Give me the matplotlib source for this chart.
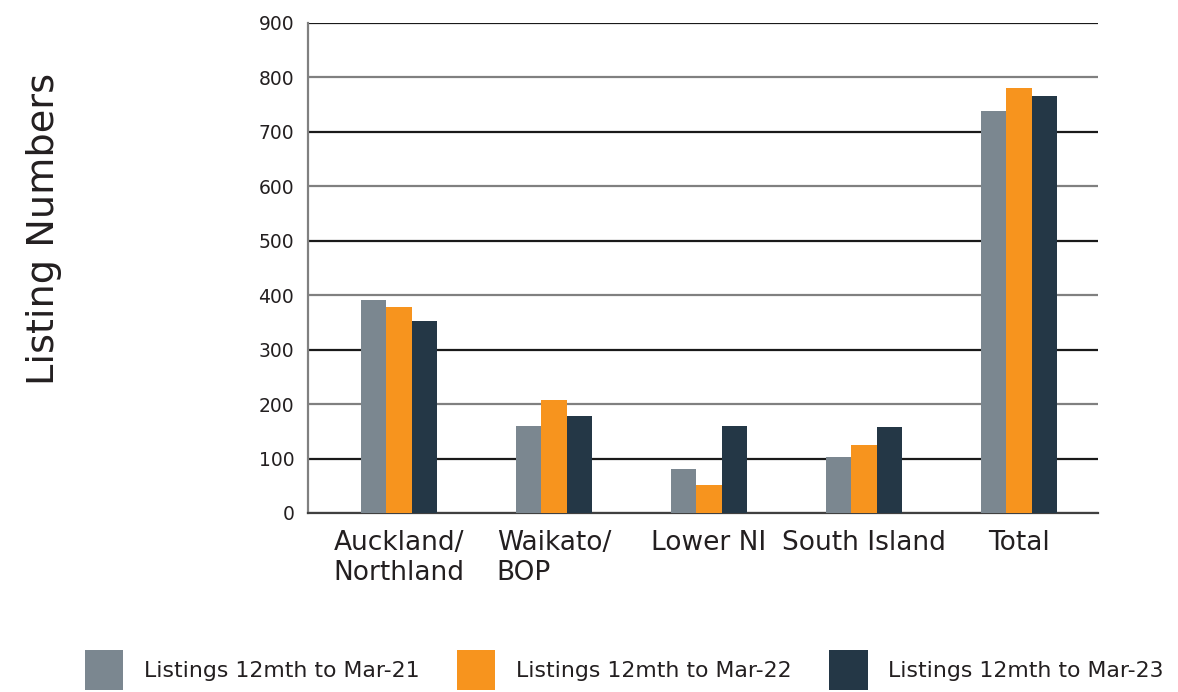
import numpy as np
import matplotlib.pyplot as plt
from matplotlib.patches import Patch

plt.rcParams['font.family'] = ['DejaVu Sans']

regions = ['Auckland/\nNorthland', 'Waikato/\nBOP', 'Lower NI', 'South Island', 'Total']
mar21 = [392, 160, 81, 103, 739]
mar22 = [379, 208, 51, 125, 781]
mar23 = [353, 178, 160, 158, 765]
series_names = ['Listings 12mth to Mar-21', 'Listings 12mth to Mar-22', 'Listings 12mth to Mar-23']
colors = ['#7b8790', '#f7941e', '#243746']

fig = plt.figure(figsize=(11.78, 6.92), dpi=100)
ax = fig.add_axes([0.2615, 0.2587, 0.6705, 0.7081])

x = np.arange(len(regions))
w = 0.165
for i, (vals, c) in enumerate(zip([mar21, mar22, mar23], colors)):
    ax.bar(x + (i - 1) * w, vals, w, color=c, zorder=3)

ax.set_ylim(0, 900)
ax.set_xlim(-0.587, 4.51)
ax.set_yticks(range(0, 901, 100))
ax.set_xticks(x)
ax.set_xticklabels(regions, fontsize=19, color='#231f20', multialignment='left')
ax.tick_params(axis='y', length=0, pad=10, labelsize=13.5, labelcolor='#231f20')
ax.tick_params(axis='x', length=0, pad=12)

# alternating grey / black gridlines as in the original
ax.yaxis.grid(True, linewidth=1.6, zorder=0)
for i, gl in enumerate(ax.get_ygridlines()):
    gl.set_color('#808080' if i % 2 == 0 else '#1a1a1a')
ax.set_axisbelow(True)

for s in ['top', 'right']:
    ax.spines[s].set_visible(False)
ax.spines['left'].set_color('#808080')
ax.spines['left'].set_linewidth(1.6)
ax.spines['bottom'].set_color('#404040')
ax.spines['bottom'].set_linewidth(1.6)

fig.text(0.037, 0.669, 'Listing Numbers', rotation=90, fontsize=27.5,
         ha='center', va='center', color='#231f20')

handles = [Patch(facecolor=c, edgecolor='none') for c in colors]
fig.legend(handles, series_names, loc='center', bbox_to_anchor=(0.530, 0.032),
           ncol=3, frameon=False, fontsize=15.8, handlelength=1.75, handleheight=2.4,
           handletextpad=0.95, columnspacing=1.7, labelcolor='#231f20')

fig.savefig('out.png', dpi=100)
